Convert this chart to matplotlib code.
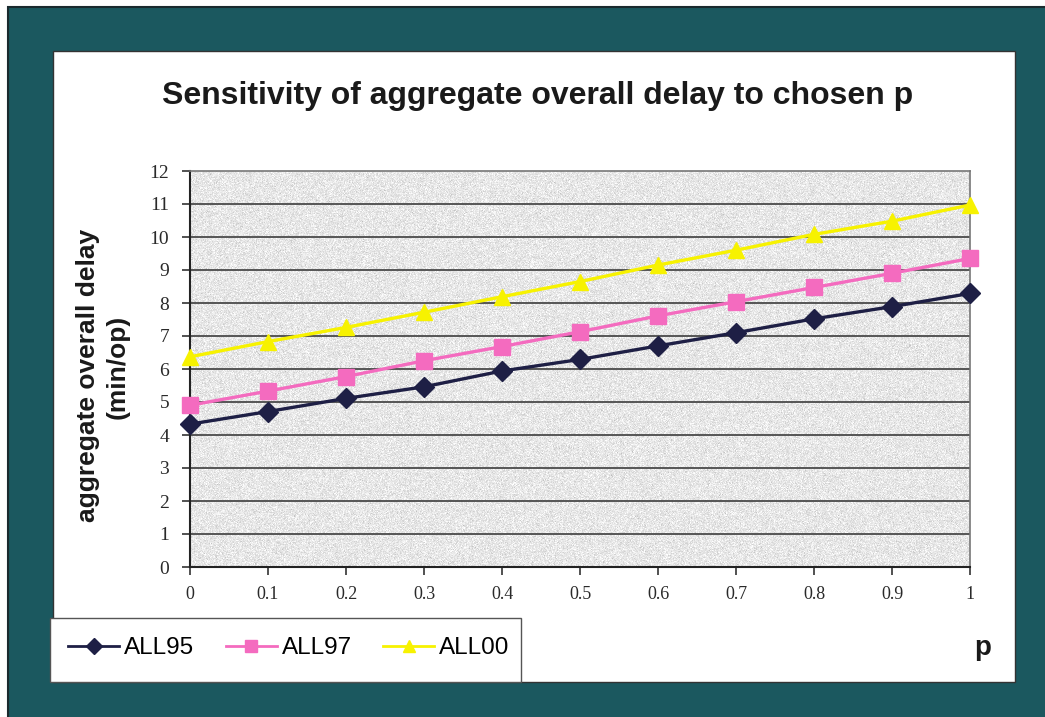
import matplotlib
matplotlib.use("Agg")
import matplotlib.pyplot as plt
from matplotlib.patches import Rectangle
from matplotlib.lines import Line2D
import numpy as np

# chosen p values and aggregate overall delay (min/op) per scenario
p_values = [0, 0.1, 0.2, 0.3, 0.4, 0.5, 0.6, 0.7, 0.8, 0.9, 1.0]
p_labels = ["0", "0.1", "0.2", "0.3", "0.4", "0.5", "0.6", "0.7", "0.8", "0.9", "1"]
all95 = [4.33, 4.71, 5.11, 5.46, 5.94, 6.29, 6.70, 7.10, 7.52, 7.89, 8.29]
all97 = [4.90, 5.33, 5.77, 6.25, 6.68, 7.13, 7.61, 8.04, 8.47, 8.90, 9.35]
all00 = [6.37, 6.83, 7.26, 7.72, 8.19, 8.65, 9.15, 9.60, 10.08, 10.48, 10.97]
series_names = ["ALL95", "ALL97", "ALL00"]
y_ticks = list(range(0, 13))

W, H = 1045, 717
fig = plt.figure(figsize=(W / 100, H / 100), dpi=100)
fig.patch.set_facecolor("white")

# backdrop drawn in pixel coordinates
bg = fig.add_axes([0, 0, 1, 1], zorder=-10)
bg.set_xlim(0, W)
bg.set_ylim(H, 0)
bg.axis("off")
bg.add_patch(Rectangle((8, 7), W, H, facecolor="#1b585f", edgecolor="#1a2a2e", lw=1.5))
bg.add_patch(Rectangle((53, 51), 962, 631, facecolor="white", edgecolor="#333333", lw=1.0))
bg.add_patch(Rectangle((50, 618), 471, 64, facecolor="white", edgecolor="#555555", lw=1.0))

bg.text(538, 96, "Sensitivity of aggregate overall delay to chosen p",
        ha="center", va="center", fontsize=23, fontweight="bold",
        family="Liberation Sans", color="#1a1a1a")
bg.text(88, 375, "aggregate overall delay", rotation=90, ha="center", va="center",
        fontsize=19, fontweight="bold", family="Liberation Sans", color="#1a1a1a")
bg.text(118, 367, "(min/op)", rotation=90, ha="center", va="center",
        fontsize=19, fontweight="bold", family="Liberation Sans", color="#1a1a1a")
bg.text(983, 648, "p", ha="center", va="center", fontsize=20, fontweight="bold",
        family="Liberation Sans", color="#1a1a1a")

ax = fig.add_axes([190 / W, 1 - 567 / H, 780 / W, 396 / H])

# grainy light gray fill of the plot area
rng = np.random.default_rng(7)
grain = np.clip(rng.normal(0.905, 0.045, (396, 780)), 0, 1)
ax.imshow(grain, cmap="gray", vmin=0, vmax=1, extent=[0, 1, 0, 12],
          aspect="auto", interpolation="nearest", zorder=0)

for yv in y_ticks[1:-1]:
    ax.axhline(yv, color="#4a4a4a", lw=1.3, zorder=1)

colors = ["#1e1f45", "#f46bbf", "#f7f200"]
markers = ["D", "s", "^"]
msizes = [10, 11, 12]
for vals, c, m, ms in zip([all95, all97, all00], colors, markers, msizes):
    ax.plot(p_values, vals, color=c, lw=2.4, marker=m, ms=ms, mec=c, mfc=c,
            zorder=3, clip_on=False)

ax.set_xlim(0, 1)
ax.set_ylim(0, 12)
ax.set_xticks(p_values)
ax.set_xticklabels(p_labels, family="Liberation Serif", fontsize=13, color="#2a2a2a")
ax.set_yticks(y_ticks)
ax.set_yticklabels([str(v) for v in y_ticks], family="Liberation Serif", fontsize=14,
                   color="#2a2a2a")
ax.tick_params(direction="out", length=6, width=1.2, color="#333333", pad=8)
ax.tick_params(axis="y", pad=9)
for side in ["left", "bottom"]:
    ax.spines[side].set_color("#222222")
    ax.spines[side].set_linewidth(1.5)
for side in ["top", "right"]:
    ax.spines[side].set_color("#777777")
    ax.spines[side].set_linewidth(1.2)

handles = [Line2D([], [], color=c, lw=2, marker=m, ms=8, mec=c, mfc=c)
           for c, m in zip(colors, markers)]
fig.legend(handles, series_names, loc="center left",
           bbox_to_anchor=(68 / W, 1 - 648 / H), ncol=3, frameon=False,
           prop={"family": "Liberation Sans", "size": 17.5},
           handlelength=2.1, handletextpad=0.2, columnspacing=1.3,
           borderaxespad=0, borderpad=0)

fig.savefig("out.png", dpi=100)
